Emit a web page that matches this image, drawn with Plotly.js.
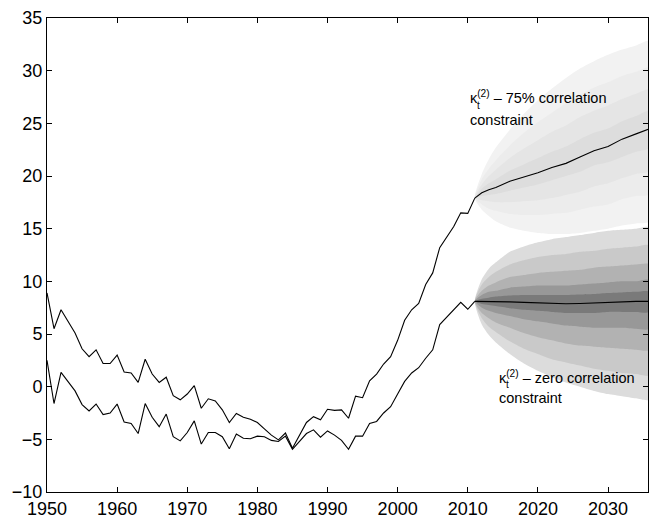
<!DOCTYPE html>
<html>
<head>
<meta charset="utf-8">
<script src="https://cdn.plot.ly/plotly-3.0.1.min.js"></script>
<style>html,body{margin:0;padding:0;background:#fff;}#chart{width:653px;height:523px;}</style>
</head>
<body>
<div id="chart"></div>
<script>
// Historical years
var histYears = [];
for (var yr = 1950; yr <= 2011; yr++) histYears.push(yr);

// kappa_t^(2) with 75% correlation constraint (historical)
var kappaCorr75 = [8.9, 5.5, 7.3, 6.2, 5.1, 3.6, 2.85, 3.5, 2.2, 2.2,
  3.0, 1.4, 1.3, 0.4, 2.6, 1.2, 0.4, 0.9, -0.85, -1.25,
  -0.7, 0.1, -2.05, -1.15, -1.35, -2.2, -3.4, -2.55, -2.9, -3.1,
  -3.4, -4.0, -4.6, -5.05, -4.4, -5.85, -4.6, -3.4, -2.85, -3.15,
  -2.15, -2.25, -2.2, -3.0, -0.9, -1.05, 0.55, 1.2, 2.15, 2.85,
  4.4, 6.3, 7.3, 7.9, 9.7, 10.8, 13.2, 14.2, 15.2, 16.5,
  16.45, 17.9];

// kappa_t^(2) with zero correlation constraint (historical)
var kappaCorr0 = [2.5, -1.6, 1.35, 0.45, -0.4, -1.7, -2.3, -1.65, -2.65, -2.5,
  -1.65, -3.35, -3.5, -4.45, -1.6, -2.9, -3.8, -2.6, -4.75, -5.15,
  -4.35, -3.25, -5.45, -4.35, -4.35, -4.75, -5.9, -4.5, -4.9, -4.95,
  -4.7, -4.75, -5.1, -5.2, -4.7, -5.95, -5.2, -4.45, -4.1, -4.8,
  -4.2, -4.6, -5.1, -5.95, -4.7, -4.7, -3.5, -3.3, -2.5, -1.9,
  -0.7, 0.5, 1.3, 1.8, 2.7, 3.5, 5.9, 6.6, 7.3, 8.0,
  7.35, 8.1];

// Forecast years
var fcYears = [2011, 2012, 2013, 2014, 2016, 2018, 2020, 2022, 2024, 2026, 2028, 2030, 2032, 2034, 2036];

// 75% correlation fan: median and bands (outer -> inner)
var c75Median = [17.9, 18.4, 18.7, 18.9, 19.5, 19.9, 20.3, 20.8, 21.2, 21.8, 22.4, 22.8, 23.5, 24.0, 24.5];
var c75Top1 = [17.9, 20.2, 21.6, 22.7, 24.4, 25.9, 27.2, 28.3, 29.3, 30.2, 30.9, 31.5, 32.0, 32.4, 32.8];
var c75Bot1 = [17.9, 16.8, 16.2, 15.7, 15.1, 14.8, 14.6, 14.5, 14.5, 14.6, 14.8, 15.0, 15.3, 15.5, 15.7];
var c75Top2 = [17.9, 19.7, 20.7, 21.5, 22.9, 24.1, 25.1, 26.0, 26.9, 27.7, 28.4, 28.9, 29.5, 29.9, 30.3];
var c75Bot2 = [17.9, 17.3, 16.9, 16.7, 16.4, 16.3, 16.3, 16.4, 16.5, 16.8, 17.1, 17.3, 17.8, 18.1, 18.3];
var c75Top3 = [17.9, 19.2, 20.0, 20.6, 21.7, 22.6, 23.4, 24.2, 24.8, 25.6, 26.2, 26.7, 27.3, 27.8, 28.2];
var c75Bot3 = [17.9, 17.7, 17.6, 17.5, 17.5, 17.6, 17.7, 17.9, 18.2, 18.5, 19.0, 19.3, 19.8, 20.2, 20.5];
var c75Top4 = [17.9, 18.8, 19.3, 19.7, 20.5, 21.1, 21.7, 22.3, 22.8, 23.5, 24.1, 24.5, 25.2, 25.7, 26.2];
var c75Bot4 = [17.9, 18.1, 18.2, 18.3, 18.6, 18.9, 19.2, 19.6, 20.0, 20.4, 21.0, 21.3, 21.8, 22.3, 22.7];

// zero correlation fan: median and bands (outer -> inner)
var c0Median = [8.1, 8.1, 8.1, 8.1, 8.05, 8.0, 7.95, 7.9, 7.87, 7.9, 7.95, 8.05, 8.1, 8.1, 8.1];
var c0Top1 = [8.1, 10.2, 11.2, 11.8, 12.8, 13.3, 13.7, 14.0, 14.2, 14.4, 14.6, 14.8, 14.9, 15.0, 15.1];
var c0Bot1 = [8.1, 5.9, 4.9, 4.2, 3.1, 2.2, 1.5, 0.9, 0.4, 0.0, -0.4, -0.7, -0.9, -1.1, -1.2];
var c0Top2 = [8.1, 9.7, 10.4, 10.9, 11.6, 12.0, 12.3, 12.5, 12.6, 12.8, 12.9, 13.1, 13.2, 13.3, 13.4];
var c0Bot2 = [8.1, 6.5, 5.7, 5.2, 4.3, 3.6, 3.1, 2.6, 2.3, 2.0, 1.7, 1.5, 1.3, 1.2, 1.1];
var c0Top3 = [8.1, 9.1, 9.6, 9.9, 10.4, 10.6, 10.8, 10.9, 11.0, 11.1, 11.3, 11.4, 11.5, 11.6, 11.6];
var c0Bot3 = [8.1, 7.0, 6.5, 6.1, 5.6, 5.1, 4.7, 4.4, 4.1, 3.9, 3.8, 3.7, 3.6, 3.5, 3.5];
var c0Top4 = [8.1, 8.7, 9.0, 9.1, 9.4, 9.5, 9.6, 9.6, 9.6, 9.7, 9.8, 9.9, 10.0, 10.0, 10.1];
var c0Bot4 = [8.1, 7.5, 7.2, 7.0, 6.7, 6.4, 6.2, 6.0, 5.8, 5.7, 5.6, 5.6, 5.6, 5.5, 5.5];
var c0Top5 = [8.1, 8.35, 8.45, 8.55, 8.65, 8.7, 8.7, 8.7, 8.7, 8.75, 8.8, 8.9, 8.95, 9.0, 9.0];
var c0Bot5 = [8.1, 7.85, 7.75, 7.65, 7.45, 7.3, 7.2, 7.1, 7.0, 7.0, 7.0, 7.1, 7.1, 7.1, 7.1];

var tickVals = [1950, 1960, 1970, 1980, 1990, 2000, 2010, 2020, 2030];
var tickText = ['1950', '1960', '1970', '1980', '1990', '2000', '2010', '2020', '2030'];

function band(top, bot, color) {
  var xs = fcYears.concat(fcYears.slice().reverse());
  var ys = top.concat(bot.slice().reverse());
  return {
    x: xs, y: ys, type: 'scatter', mode: 'lines', fill: 'toself',
    fillcolor: color, line: {width: 0, color: color, shape: 'spline', smoothing: 0.7},
    hoverinfo: 'skip', showlegend: false
  };
}

var traces = [
  band(c75Top1, c75Bot1, '#f2f2f2'),
  band(c75Top2, c75Bot2, '#ececec'),
  band(c75Top3, c75Bot3, '#e5e5e5'),
  band(c75Top4, c75Bot4, '#dddddd'),
  band(c0Top1, c0Bot1, '#dcdcdc'),
  band(c0Top2, c0Bot2, '#c9c9c9'),
  band(c0Top3, c0Bot3, '#b2b2b2'),
  band(c0Top4, c0Bot4, '#989898'),
  band(c0Top5, c0Bot5, '#7a7a7a'),
  {x: histYears, y: kappaCorr75, type: 'scatter', mode: 'lines', line: {color: '#000', width: 1.1}, showlegend: false},
  {x: histYears, y: kappaCorr0, type: 'scatter', mode: 'lines', line: {color: '#000', width: 1.1}, showlegend: false},
  {x: fcYears, y: c75Median, type: 'scatter', mode: 'lines', line: {color: '#000', width: 1.1}, showlegend: false},
  {x: fcYears, y: c0Median, type: 'scatter', mode: 'lines', line: {color: '#000', width: 1.1}, showlegend: false}
];

var txtFont = {family: 'Liberation Sans, Arial, Helvetica, sans-serif', size: 14.5, color: '#000'};
var subFont = {family: 'Liberation Sans, Arial, Helvetica, sans-serif', size: 10, color: '#000'};

var layout = {
  width: 653, height: 523,
  margin: {l: 47, r: 5, t: 18, b: 31},
  paper_bgcolor: '#fff', plot_bgcolor: '#fff',
  font: {family: 'Liberation Sans, Arial, Helvetica, sans-serif', size: 18, color: '#000'},
  showlegend: false,
  xaxis: {
    range: [1950, 2035.7], tickvals: tickVals, ticktext: tickText,
    ticks: 'inside', ticklen: 5, tickcolor: '#000', tickwidth: 1,
    showline: true, linecolor: '#000', linewidth: 1, mirror: 'ticks',
    showgrid: false, zeroline: false, tickfont: {size: 18}
  },
  yaxis: {
    range: [-10, 35], dtick: 5, tick0: -10,
    ticks: 'inside', ticklen: 5, tickcolor: '#000', tickwidth: 1,
    showline: true, linecolor: '#000', linewidth: 1, mirror: 'ticks',
    showgrid: false, zeroline: false, tickfont: {size: 18}
  },
  annotations: [
    {x: 2010.0, y: 27.5, xref: 'x', yref: 'y', xanchor: 'left', yanchor: 'middle', showarrow: false,
     text: 'κ<sup>(2)</sup> – 75% correlation', font: txtFont},
    {x: 2010.0, y: 27.5, xref: 'x', yref: 'y', xanchor: 'left', yanchor: 'middle', showarrow: false,
     xshift: 7, yshift: -8, text: 't', font: subFont},
    {x: 2010.0, y: 25.3, xref: 'x', yref: 'y', xanchor: 'left', yanchor: 'middle', showarrow: false,
     text: 'constraint', font: txtFont},
    {x: 2014.15, y: 0.92, xref: 'x', yref: 'y', xanchor: 'left', yanchor: 'middle', showarrow: false,
     text: 'κ<sup>(2)</sup> – zero correlation', font: txtFont},
    {x: 2014.15, y: 0.92, xref: 'x', yref: 'y', xanchor: 'left', yanchor: 'middle', showarrow: false,
     xshift: 7, yshift: -8, text: 't', font: subFont},
    {x: 2014.15, y: -1.07, xref: 'x', yref: 'y', xanchor: 'left', yanchor: 'middle', showarrow: false,
     text: 'constraint', font: txtFont}
  ]
};

Plotly.newPlot('chart', traces, layout, {displayModeBar: false, staticPlot: true});
</script>
</body>
</html>
